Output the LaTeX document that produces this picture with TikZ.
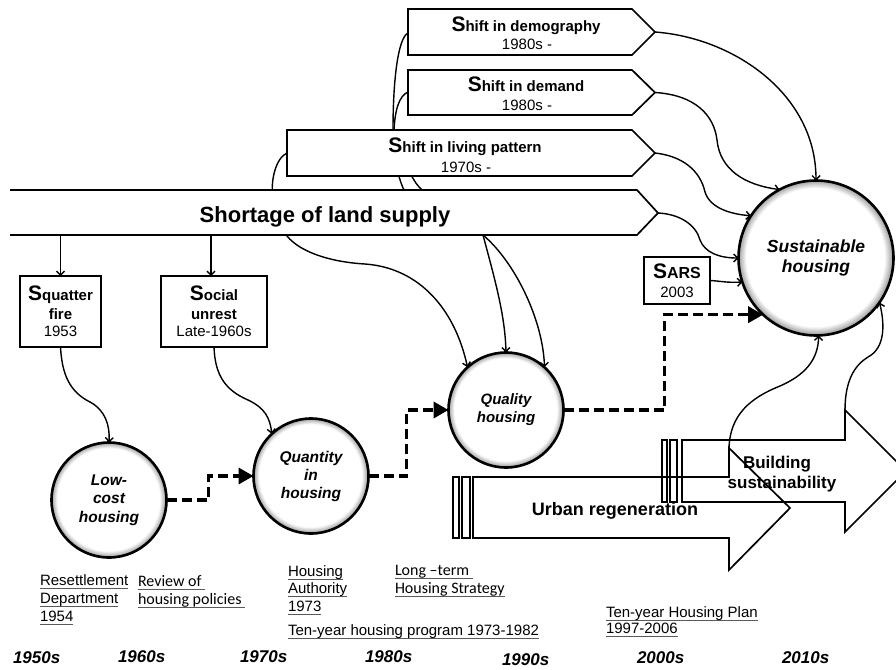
\documentclass[tikz,border=0pt]{standalone}
\usepackage{fontspec}
\setmainfont{Liberation Sans}
\newfontfamily\calibfont{Carlito}
\usetikzlibrary{arrows.meta,calc}
\pgfdeclarelayer{bg}
\pgfdeclarelayer{paper}
\pgfsetlayers{paper,bg,main}
\pgfdeclareradialshading{ringshade}{\pgfpoint{-1bp}{1bp}}{color(0bp)=(white); color(22.3bp)=(white); color(25bp)=(black!40); color(30bp)=(black!40)}
\newcommand\bigS[1]{{\fontsize{21}{21}\selectfont #1}}
\newcommand\myul[1]{\setbox0\hbox{#1}\rlap{\textcolor{black!65}{\rule[-3.5pt]{\wd0}{0.9pt}}}\box0}
\begin{document}
\begin{tikzpicture}[x=1pt,y=-1pt,
  every node/.style={inner sep=0pt, outer sep=0pt},
  shapeline/.style={line width=1.7pt},
  box/.style={draw, line width=1.7pt, fill=white, align=center, font=\bfseries\fontsize{15}{17.5}\selectfont},
  hcirc/.style={circle, draw, line width=2.6pt, shade, shading=ringshade, align=center, font=\bfseries\itshape\fontsize{15.5}{18.5}\selectfont},
  ttl/.style={anchor=base, font=\bfseries\fontsize{15}{18}\selectfont},
  yr/.style={anchor=base, font=\fontsize{15}{18}\selectfont},
  lbl/.style={anchor=base west, font=\fontsize{15}{18}\selectfont},
  clbl/.style={anchor=base west, font=\calibfont\fontsize{16}{18}\selectfont},
  dec/.style={anchor=base west, font=\bfseries\itshape\fontsize{17}{18}\selectfont},
  link/.style={line width=1.4pt, -{Straight Barb[length=4pt,width=8pt]}},
  dashlink/.style={line width=3.6pt, dash pattern=on 10pt off 5pt, -{Triangle[length=15pt,width=16pt]}},
]
\useasboundingbox (0,0) rectangle (896,669);
\begin{pgfonlayer}{paper}
\fill[white] (0,0) rectangle (896,669);
\end{pgfonlayer}
\clip (0,0) rectangle (896,669);

% ---- shift boxes ----
\filldraw[shapeline, fill=white] (408,9) -- (632,9) -- (655,32) -- (632,55) -- (408,55) -- cycle;
\coordinate (demW) at (408,33); \coordinate (demE) at (655,32);
\node[ttl] (demT) at (526,32) {\bigS{S}hift in demography};
\node[yr] (demY) at (527,50) {1980s -};

\filldraw[shapeline, fill=white] (408,70) -- (632,70) -- (655,92.5) -- (632,115) -- (408,115) -- cycle;
\coordinate (demdW) at (408,92); \coordinate (demdE) at (655,92.5);
\node[ttl] (demdT) at (526,92) {\bigS{S}hift in demand};
\node[yr] (demdY) at (527,110) {1980s -};

\filldraw[shapeline, fill=white] (287,130) -- (632,130) -- (655,153) -- (632,176) -- (287,176) -- cycle;
\coordinate (livW) at (287,153); \coordinate (livE) at (655,153);
\node[ttl] (livT) at (465,152) {\bigS{S}hift in living pattern};
\node[yr] (livY) at (466,172) {1970s -};

% ---- shortage of land supply ----
\fill[white] (10,190) -- (637,190) -- (658,213) -- (637,235) -- (10,235) -- cycle;
\draw[shapeline] (10,190) -- (637,190) -- (658,213) -- (637,235) -- (10,235);
\coordinate (shB) at (0,235); \coordinate (shE) at (658,213); \coordinate (fork) at (483,235);
\node[anchor=base, font=\bfseries\fontsize{22}{22}\selectfont] (shortT) at (325,222) {Shortage of land supply};

% ---- event boxes ----
\node[box, minimum width=81pt, minimum height=71pt] (sq) at (60.5,311.5) {\bigS{S}quatter\\[1pt] fire\\ {\mdseries 1953}};
\node[box, minimum width=106pt, minimum height=71pt] (soc) at (214,311.5) {\bigS{S}ocial\\[1pt] unrest\\ {\mdseries Late-1960s}};
\node[box, minimum width=66pt, minimum height=47pt] (sars) at (677,280.5) {\bigS{S}{\fontsize{16}{16}\selectfont ARS}\\[2pt] {\mdseries 2003}};

% ---- housing circles ----
\node[hcirc, minimum size=115pt] (low) at (109,500) {Low-\\cost\\housing};
\node[hcirc, minimum size=115pt, font=\bfseries\itshape\fontsize{15.5}{18}\selectfont] (quan) at (311,476) {Quantity\\in\\housing};
\node[hcirc, minimum size=115pt, font=\bfseries\itshape\fontsize{15}{18}\selectfont] (qual) at (506,410) {Quality\\housing};
\node[hcirc, minimum size=155pt, font=\bfseries\itshape\fontsize{17.5}{20}\selectfont] (sus) at (816,258) {Sustainable\\housing};

% ---- block arrows ----
\draw[shapeline] (453,477) rectangle (459,538);
\draw[shapeline] (462,477) rectangle (470,538);
\draw[shapeline] (473,477) -- (729,477) -- (729,448) -- (790,508) -- (729,570) -- (729,538) -- (473,538) -- cycle;
\coordinate (urTop) at (729,448);
\node[anchor=base, font=\bfseries\fontsize{18}{18}\selectfont] (urT) at (615,515) {Urban regeneration};

\draw[shapeline] (662,440) rectangle (667,502);
\draw[shapeline] (670,440) rectangle (677,502);
\draw[shapeline] (682,440) -- (845,440) -- (845,410) -- (906,471) -- (845,532) -- (845,502) -- (682,502) -- cycle;
\coordinate (bsTop) at (845,410);
\node[anchor=base, font=\bfseries\fontsize{17}{17}\selectfont] (bsT1) at (777,468) {Building};
\node[anchor=base, font=\bfseries\fontsize{17}{17}\selectfont] (bsT2) at (782,488) {sustainability};

% ---- bottom labels ----
\node[lbl] (rs1) at (40,585) {\myul{Resettlement}};
\node[lbl] (rs2) at (40,603) {\myul{Department}};
\node[lbl] (rs3) at (40,621) {\myul{1954}};
\node[clbl] (rv1) at (138,586) {\myul{Review of }};
\node[clbl] (rv2) at (138,604) {\myul{housing policies }};
\node[lbl] (ha1) at (288,576) {\myul{Housing}};
\node[lbl] (ha2) at (288,593) {\myul{Authority}};
\node[lbl] (ha3) at (288,611) {\myul{1973}};
\node[clbl] (lt1) at (395,575) {\myul{Long –term }};
\node[clbl] (lt2) at (395,593) {\myul{Housing Strategy}};
\node[lbl] (tp) at (288,635) {\myul{Ten-year housing program 1973-1982}};
\node[lbl] (hp1) at (606,617) {\myul{Ten-year Housing Plan}};
\node[lbl] (hp2) at (606,633) {\myul{1997-2006}};

\node[dec] (d50) at (13,663) {1950s};
\node[dec] (d60) at (118,662) {1960s};
\node[dec] (d70) at (240,662) {1970s};
\node[dec] (d80) at (365,662) {1980s};
\node[dec] (d90) at (502,665) {1990s};
\node[dec] (d00) at (637,663) {2000s};
\node[dec] (d10) at (782,663) {2010s};

% ---- connectors (behind shapes) ----
\begin{pgfonlayer}{bg}
% into quality housing, passing behind boxes
\draw[link] (demW) .. controls (398,38) and (393,80) .. (393,130) .. controls (394,165) and (400,195) .. (420,212) .. controls (450,225) and (478,228) .. (fork) .. controls (515,262) and (543,320) .. (qual.48);
\draw[link] (demdW) .. controls (399,96) and (395,110) .. (394,130) .. controls (400,160) and (408,170) .. (414,180) .. controls (422,195) and (460,220) .. (fork) .. controls (495,280) and (505,315) .. (qual.north);
\draw[link] (livW) .. controls (276,158) and (270,180) .. (273,200) .. controls (275,220) and (280,230) .. (287,236) .. controls (300,252) and (330,262) .. (365,264) .. controls (420,268) and (455,310) .. (qual.132);
% shortage to events
\draw[link] (sq.north |- shB) -- (sq.north);
\draw[link] ($(soc.north |- shB)+(-3,0)$) -- ($(soc.north)+(-3,0)$);
% events to circles
\draw[link] (sq.south) .. controls (62,375) and (70,392) .. (90,402) .. controls (105,410) and (110,425) .. (low.north);
\draw[link] (soc.south) .. controls (215,375) and (225,390) .. (248,400) .. controls (265,408) and (270,418) .. (quan.133);
% into sustainable housing
\draw[link] (demE) .. controls (735,38) and (816,95) .. (sus.north);
\draw[link] (demdE) .. controls (695,95) and (714,115) .. (717,140) .. controls (720,170) and (745,185) .. (sus.118);
\draw[link] (livE) .. controls (682,156) and (700,170) .. (705,192) .. controls (710,208) and (730,214) .. (sus.147);
\draw[link] (shE) .. controls (680,214) and (696,225) .. (700,240) .. controls (705,253) and (720,258) .. (sus.180);
\draw[link] (sars.east) .. controls (720,281) and (728,283) .. (sus.198);
\draw[link] (urTop) .. controls (730,415) and (750,398) .. (780,386) .. controls (805,375) and (818,360) .. (sus.272);
\draw[link] (bsTop) .. controls (845,380) and (855,365) .. (868,357) .. controls (885,348) and (885,325) .. (sus.325);
% development path
\draw[dashlink] (low.east) -- ++(42,0) |- (quan.west);
\draw[dashlink] (quan.east) -- ++(38,0) |- (qual.west);
\draw[dashlink] (qual.east) -- ++(101,0) |- (sus.227);
\end{pgfonlayer}
\end{tikzpicture}
\end{document}
